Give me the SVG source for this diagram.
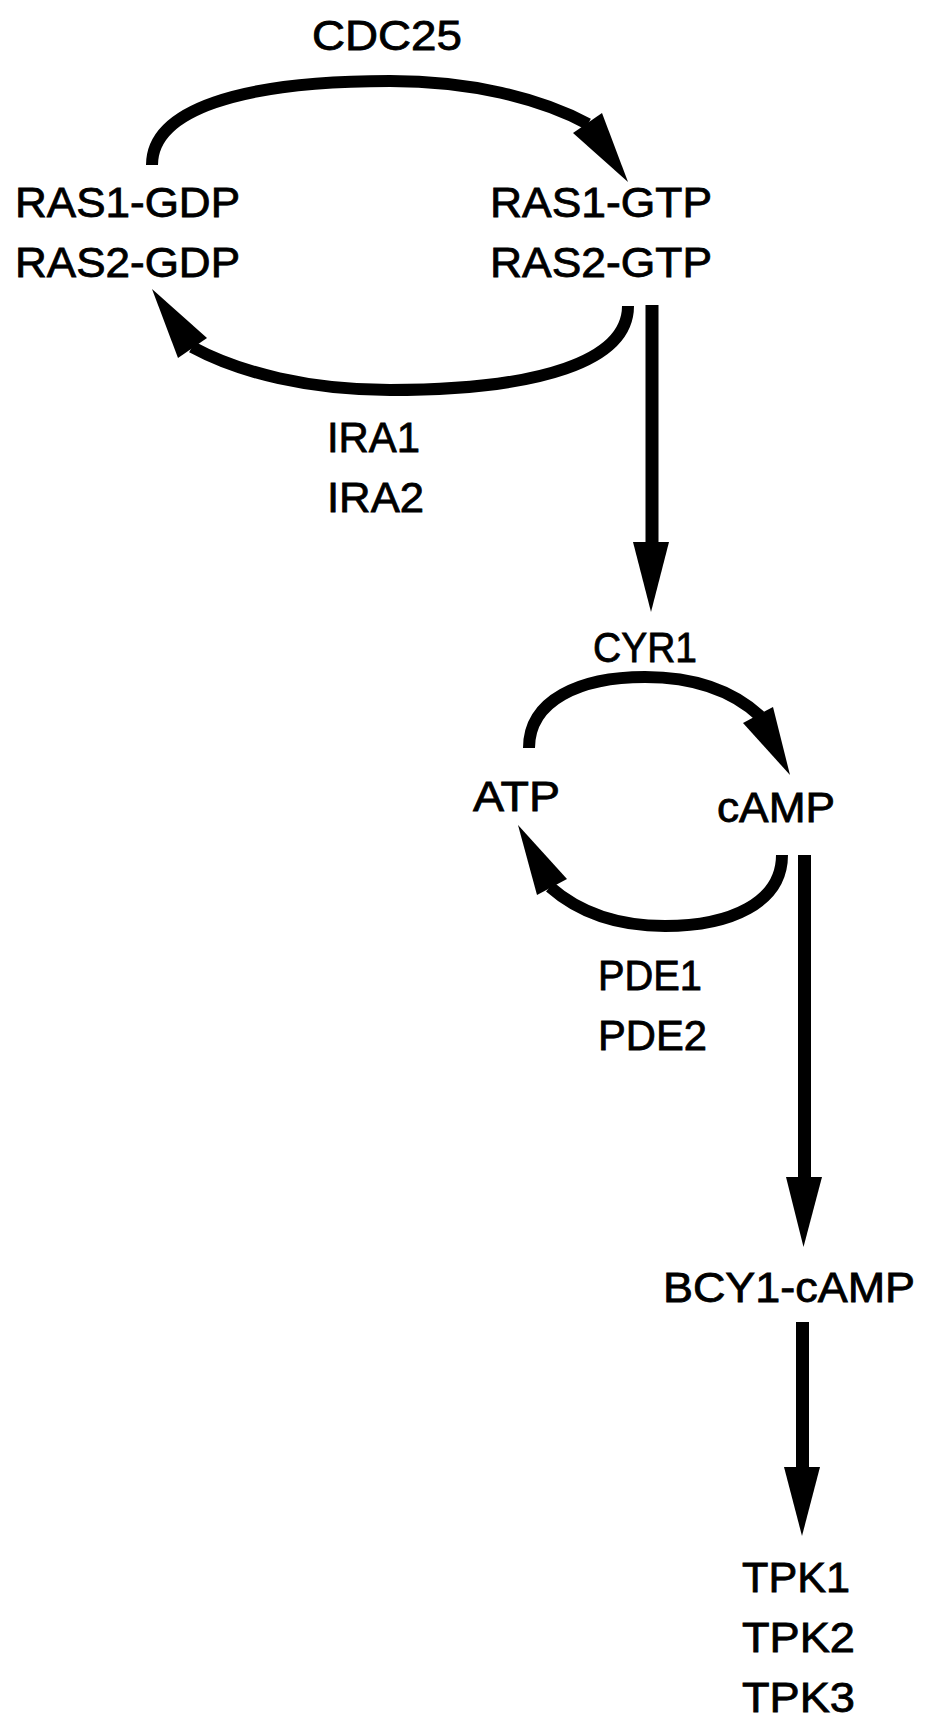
<svg xmlns="http://www.w3.org/2000/svg" width="925" height="1719" viewBox="0 0 925 1719">
<style>
.t{font-family:"Liberation Sans",Arial,sans-serif;font-size:42px;fill:#000;stroke:#000;stroke-width:0.8}
.arc{fill:none;stroke:#000;stroke-width:12}
.bar{fill:none;stroke:#000;stroke-width:13}
.head{fill:#000;stroke:none}
</style>
<rect width="925" height="1719" fill="#fff"/>
<g id="connectors">
  <path class="arc" d="M152,165 C152,110 240,81 390,81 C470,81 540,98 588,124"/>
  <polygon class="head" points="573,133 602,113 628,182"/>
  <path class="arc" d="M628,306 C628,361 540,390 390,390 C310,390 240,373 192,347"/>
  <polygon class="head" points="207,338 178,358 152,289"/>
  <path class="bar" d="M652,305 V546"/>
  <polygon class="head" points="633,542 669,542 651,612"/>
  <path class="arc" d="M529,748 C529,700 580,677 645,677 C700,677 735,693 760,716"/>
  <polygon class="head" points="743,723 773,707 790,775"/>
  <path class="arc" d="M782,855 C782,903 730,926 665,926 C610,926 575,909 550,887"/>
  <polygon class="head" points="567,879 537,895 518,825"/>
  <path class="bar" d="M804.5,855 V1181"/>
  <polygon class="head" points="786,1177 822,1177 803.5,1247"/>
  <path class="bar" d="M802.5,1322 V1471"/>
  <polygon class="head" points="784,1467 820,1467 802,1536"/>
</g>
<g id="cdc25"><text class="t" x="312" y="50" textLength="150" lengthAdjust="spacingAndGlyphs">CDC25</text></g>
<g id="ras-gdp">
  <text class="t" x="15" y="217" textLength="225" lengthAdjust="spacingAndGlyphs">RAS1-GDP</text>
  <text class="t" x="15" y="277" textLength="225" lengthAdjust="spacingAndGlyphs">RAS2-GDP</text>
</g>
<g id="ras-gtp">
  <text class="t" x="490" y="217" textLength="222" lengthAdjust="spacingAndGlyphs">RAS1-GTP</text>
  <text class="t" x="490" y="277" textLength="222" lengthAdjust="spacingAndGlyphs">RAS2-GTP</text>
</g>
<g id="ira">
  <text class="t" x="327" y="452" textLength="93" lengthAdjust="spacingAndGlyphs">IRA1</text>
  <text class="t" x="327" y="512" textLength="97" lengthAdjust="spacingAndGlyphs">IRA2</text>
</g>
<g id="cyr1"><text class="t" x="593" y="662" textLength="104" lengthAdjust="spacingAndGlyphs">CYR1</text></g>
<g id="atp"><text class="t" x="473" y="811" textLength="87" lengthAdjust="spacingAndGlyphs">ATP</text></g>
<g id="camp"><text class="t" x="717" y="822" textLength="118" lengthAdjust="spacingAndGlyphs">cAMP</text></g>
<g id="pde">
  <text class="t" x="598" y="990" textLength="104" lengthAdjust="spacingAndGlyphs">PDE1</text>
  <text class="t" x="598" y="1050" textLength="109" lengthAdjust="spacingAndGlyphs">PDE2</text>
</g>
<g id="bcy1-camp"><text class="t" x="663" y="1302" textLength="252" lengthAdjust="spacingAndGlyphs">BCY1-cAMP</text></g>
<g id="tpk">
  <text class="t" x="742" y="1592" textLength="108" lengthAdjust="spacingAndGlyphs">TPK1</text>
  <text class="t" x="742" y="1652" textLength="113" lengthAdjust="spacingAndGlyphs">TPK2</text>
  <text class="t" x="742" y="1712" textLength="113" lengthAdjust="spacingAndGlyphs">TPK3</text>
</g>
</svg>
